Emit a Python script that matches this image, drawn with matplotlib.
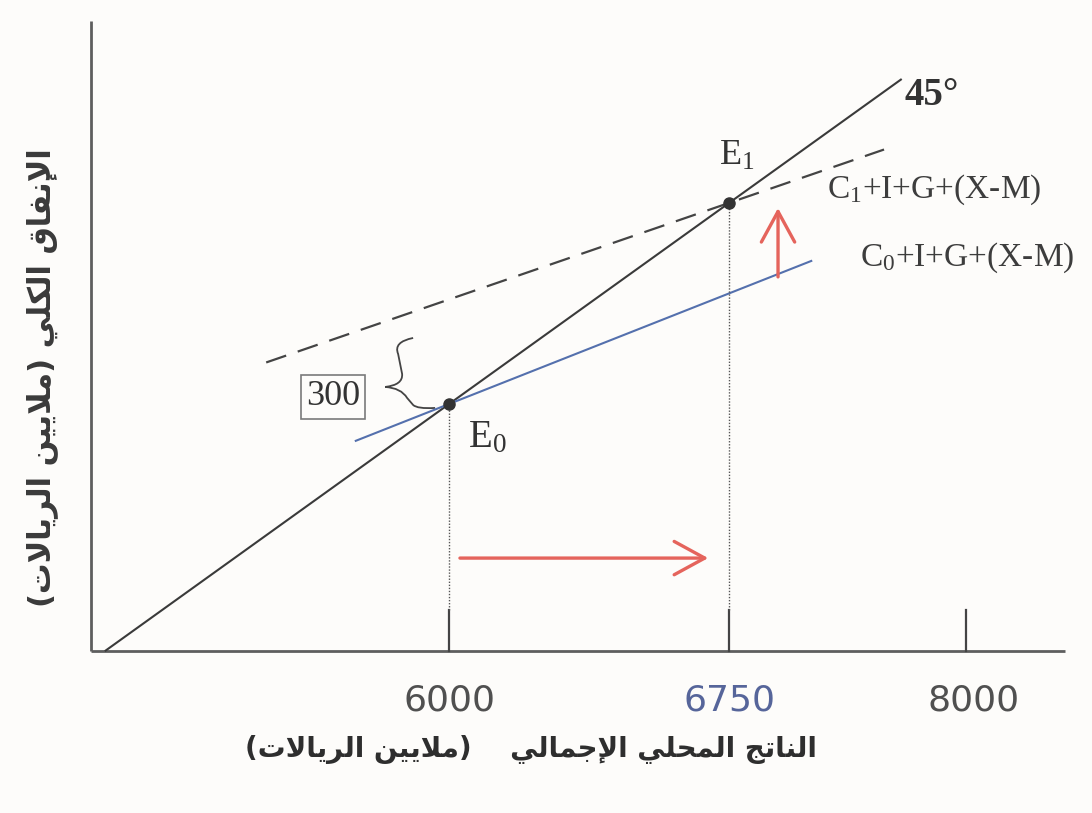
import matplotlib
matplotlib.use("Agg")
import matplotlib.pyplot as plt
from matplotlib.path import Path
from matplotlib.patches import PathPatch
import matplotlib.transforms as mtransforms

plt.rcParams['mathtext.default'] = 'regular'

# ---------------- data ----------------
tick_labels = ["6000", "6750", "8000"]
tick_positions = [6000, 6750, 7385]          # schematic axis (not to scale)
equilibrium_gdp = [6000, 6750]               # E0, E1 on the 45-degree line
equilibrium_labels = ["E$_0$", "E$_1$"]
ae0_slope = 0.55                             # C0+I+G+(X-M)
ae1_slope = 0.48                             # C1+I+G+(X-M)
ae0_range = [5750, 6970]
ae1_range = [5510, 7165]
line45_range = [5080, 7210]
shift_label = "300"
ae_labels = ["C$_0$+I+G+(X-M)", "C$_1$+I+G+(X-M)"]
xlabel_ar = "الناتج المحلي الإجمالي    (ملايين الريالات)"
ylabel_ar = "الإنفاق الكلي (ملايين الريالات)"

# ---------------- Arabic shaping (presentation forms + visual order) ----------------
_FORMS = {
    '\u0627': ('\uFE8D', '\uFE8E', None, None),
    '\u0625': ('\uFE87', '\uFE88', None, None),
    '\u0623': ('\uFE83', '\uFE84', None, None),
    '\u0631': ('\uFEAD', '\uFEAE', None, None),
    '\u062A': ('\uFE95', '\uFE96', '\uFE97', '\uFE98'),
    '\u062C': ('\uFE9D', '\uFE9E', '\uFE9F', '\uFEA0'),
    '\u062D': ('\uFEA1', '\uFEA2', '\uFEA3', '\uFEA4'),
    '\u0641': ('\uFED1', '\uFED2', '\uFED3', '\uFED4'),
    '\u0642': ('\uFED5', '\uFED6', '\uFED7', '\uFED8'),
    '\u0643': ('\uFED9', '\uFEDA', '\uFEDB', '\uFEDC'),
    '\u0644': ('\uFEDD', '\uFEDE', '\uFEDF', '\uFEE0'),
    '\u0645': ('\uFEE1', '\uFEE2', '\uFEE3', '\uFEE4'),
    '\u0646': ('\uFEE5', '\uFEE6', '\uFEE7', '\uFEE8'),
    '\u064A': ('\uFEF1', '\uFEF2', '\uFEF3', '\uFEF4'),
}
_LAMALEF = {'\u0627': ('\uFEFB', '\uFEFC'),
            '\u0625': ('\uFEF9', '\uFEFA'),
            '\u0623': ('\uFEF7', '\uFEF8')}


def shape_arabic(text):
    def joins_forward(c):
        f = _FORMS.get(c)
        return f is not None and f[2] is not None
    out, i, n = [], 0, len(text)
    while i < n:
        c = text[i]
        if c not in _FORMS:
            out.append(c); i += 1; continue
        prev = text[i - 1] if i > 0 else ''
        link_prev = joins_forward(prev)
        if c == '\u0644' and i + 1 < n and text[i + 1] in _LAMALEF:
            out.append(_LAMALEF[text[i + 1]][1 if link_prev else 0]); i += 2; continue
        nxt = text[i + 1] if i + 1 < n else ''
        link_next = joins_forward(c) and nxt in _FORMS
        iso, fin, ini, med = _FORMS[c]
        if link_prev and link_next:
            g = med
        elif link_prev:
            g = fin
        elif link_next:
            g = ini
        else:
            g = iso
        out.append(g); i += 1
    mirror = {'(': ')', ')': '('}
    return ''.join(mirror.get(ch, ch) for ch in reversed(out))


# ---------------- figure ----------------
fig = plt.figure(figsize=(10.92, 8.13), dpi=100)
fig.patch.set_facecolor('#fdfcfa')
ax = fig.add_axes([0, 0, 1, 1])
ax.axis('off')
ax.set_xlim(4797, 7722)
ax.set_ylim(4474, 7507)

dark = '#3a3a3a'
axis_col = '#5e5e5e'
blue = '#5470ad'
red = '#e5645c'
serif = 'Liberation Serif'

Y0 = 5080   # level of horizontal axis
X0 = 5040   # position of vertical axis

# axes
ax.plot([X0, 7650], [Y0, Y0], color=axis_col, lw=2.0, solid_capstyle='butt')
ax.plot([X0, X0], [Y0, 7430], color=axis_col, lw=2.0, solid_capstyle='butt')

# ticks
for pos, lab in zip(tick_positions, tick_labels):
    ax.plot([pos, pos], [Y0, Y0 + 150], color='#444444', lw=1.6)
    col = '#56659a' if lab == "6750" else '#505050'
    ax.text(pos + (20 if lab == "8000" else 0), 4895, lab, ha='center', va='center',
            fontsize=26, color=col, family='DejaVu Sans')

# 45-degree line
ax.plot(line45_range, line45_range, color=dark, lw=1.5)
ax.text(7221, 7149, "45°", ha='left', va='center', fontsize=28, fontweight='bold',
        family=serif, color='#333333')

# aggregate expenditure lines
e0, e1 = equilibrium_gdp
ae0_y = [e0 + ae0_slope * (x - e0) for x in ae0_range]
ae1_y = [e1 + ae1_slope * (x - e1) for x in ae1_range]
ax.plot(ae0_range, ae0_y, color=blue, lw=1.5)
ax.plot(ae1_range, ae1_y, color='#444444', lw=1.6, linestyle=(0, (9.5, 5.5)))

ax.text(7101, 6545, ae_labels[0], ha='left', va='center', fontsize=24,
        family=serif, color='#3d3d3d')
ax.text(7012, 6798, ae_labels[1], ha='left', va='center', fontsize=24,
        family=serif, color='#3d3d3d')

# equilibria: dotted drop lines and dots
for g in equilibrium_gdp:
    ax.plot([g, g], [Y0 + 150, g], color='#555555', lw=1.0, linestyle=(0, (1, 1.2)))
    ax.plot([g], [g], 'o', color='#333333', markersize=8, zorder=5)

ax.text(6051, 5873, equilibrium_labels[0], ha='left', va='center', fontsize=28,
        family=serif, color='#333333')
ax.text(6722, 6925, equilibrium_labels[1], ha='left', va='center', fontsize=26,
        family=serif, color='#333333')

# boxed shift label
ax.text(5689, 6026, shift_label, ha='center', va='center', fontsize=26, family=serif,
        color='#333333',
        bbox=dict(boxstyle='square,pad=0.15', fc='none', ec='#7a7a7a', lw=1.2))

# curly brace (drawn in pixel offsets from E0)
brace_verts = [(-36, 66), (-56, 62), (-51, 50), (-47, 30), (-46, 19), (-64, 17),
               (-48, 16), (-42, 6), (-36, -1), (-32, -5), (-14, -4)]
brace_codes = [Path.MOVETO, Path.CURVE3, Path.CURVE3, Path.LINETO, Path.CURVE3,
               Path.CURVE3, Path.CURVE3, Path.CURVE3, Path.LINETO, Path.CURVE3,
               Path.CURVE3]
brace_tr = (mtransforms.Affine2D().scale(1 / fig.dpi) + fig.dpi_scale_trans +
            mtransforms.ScaledTranslation(e0, e0, ax.transData))
ax.add_patch(PathPatch(Path(brace_verts, brace_codes), fc='none', ec='#444444',
                       lw=1.3, transform=brace_tr))

# red shift arrows
arrow_kw = dict(arrowstyle='->,head_length=1.1,head_width=0.6', color=red, lw=2.4,
                mutation_scale=20, shrinkA=0, shrinkB=0)
ax.annotate('', xy=(6694, 5425), xytext=(6029, 5425), arrowprops=arrow_kw)
ax.annotate('', xy=(6881, 6731), xytext=(6881, 6474), arrowprops=arrow_kw)

# Arabic axis titles
ax.text(6220, 4712, shape_arabic(xlabel_ar), ha='center', va='center', fontsize=20,
        fontweight='bold', family=['DejaVu Sans'], color='#2e2e2e')
ax.text(4910, 6097, shape_arabic(ylabel_ar), ha='center', va='center', fontsize=22,
        fontweight='bold', rotation=90, family=['DejaVu Sans'], color='#3a3a3a')

fig.savefig('out.png', dpi=100, facecolor=fig.get_facecolor())
